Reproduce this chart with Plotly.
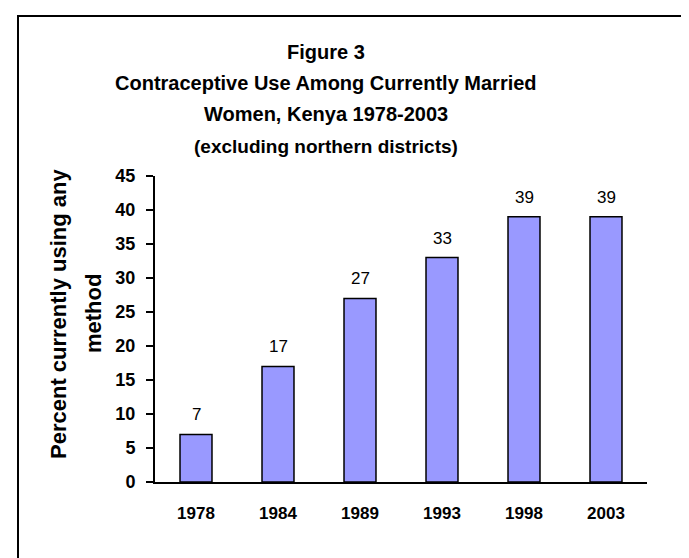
import plotly.graph_objects as go

years = ["1978", "1984", "1989", "1993", "1998", "2003"]
values = [7, 17, 27, 33, 39, 39]
y_ticks = [0, 5, 10, 15, 20, 25, 30, 35, 40, 45]
title_lines = ["Figure 3",
               "Contraceptive Use Among Currently Married",
               "Women, Kenya 1978-2003",
               "(excluding northern districts)"]
y_title_lines = ["Percent currently using any", "method"]

FONT = "Arial, Liberation Sans, sans-serif"
W, H = 689, 558
L, R, T, B = 147, 50, 168, 84
PW, PH = W - L - R, H - T - B

def px_x(X):
    return (X - L) / PW

def px_y(Y):
    return (H - B - Y) / PH

fig = go.Figure()
fig.add_trace(go.Bar(
    x=years, y=values, width=0.39,
    marker=dict(color="#9999FF", line=dict(color="black", width=1.5)),
    showlegend=False, hoverinfo="x+y",
))

annotations = []
# category axis: annotations use the category index
for i, v in enumerate(values):
    annotations.append(dict(x=i, y=v, xref="x", yref="y", text=str(v),
                            showarrow=False, yanchor="bottom", yshift=8,
                            font=dict(family=FONT, size=17, color="black")))

title_y = [44, 75, 106, 139]
title_sizes = [20, 20, 20, 19]
for txt, yy, sz in zip(title_lines, title_y, title_sizes):
    annotations.append(dict(x=px_x(318), y=px_y(yy), xref="paper", yref="paper",
                            text="<b>" + txt + "</b>", showarrow=False,
                            xanchor="center", yanchor="middle",
                            font=dict(family=FONT, size=sz, color="black")))

for txt, xx in zip(y_title_lines, [50, 85]):
    annotations.append(dict(x=px_x(xx), y=px_y(306), xref="paper", yref="paper",
                            text="<b>" + txt + "</b>", showarrow=False, textangle=-90,
                            xanchor="center", yanchor="middle",
                            font=dict(family=FONT, size=22, color="black")))

fig.update_layout(
    width=W, height=H,
    margin=dict(l=L, r=R, t=T, b=B),
    paper_bgcolor="white", plot_bgcolor="white",
    font=dict(family=FONT, color="black"),
    annotations=annotations,
    shapes=[dict(type="rect", xref="paper", yref="paper",
                 x0=px_x(10), x1=px_x(720), y0=px_y(600), y1=px_y(8),
                 line=dict(color="black", width=2), fillcolor="rgba(0,0,0,0)", layer="below")],
    xaxis=dict(
        type="category", categoryorder="array", categoryarray=years,
        range=[-0.5, len(years) - 0.5],
        showline=True, linecolor="black", linewidth=2,
        ticks="", showgrid=False, zeroline=False,
        tickfont=dict(family=FONT, size=17, color="black", weight="bold"),
        ticklabelstandoff=15,
    ),
    yaxis=dict(
        range=[0, 45], tickvals=y_ticks, showline=True, linecolor="black", linewidth=2,
        ticks="outside", ticklen=7, tickwidth=2, tickcolor="black",
        showgrid=False, zeroline=False,
        tickfont=dict(family=FONT, size=18, color="black", weight="bold"),
        ticklabelstandoff=7,
    ),
)

fig.write_html("out.html")
